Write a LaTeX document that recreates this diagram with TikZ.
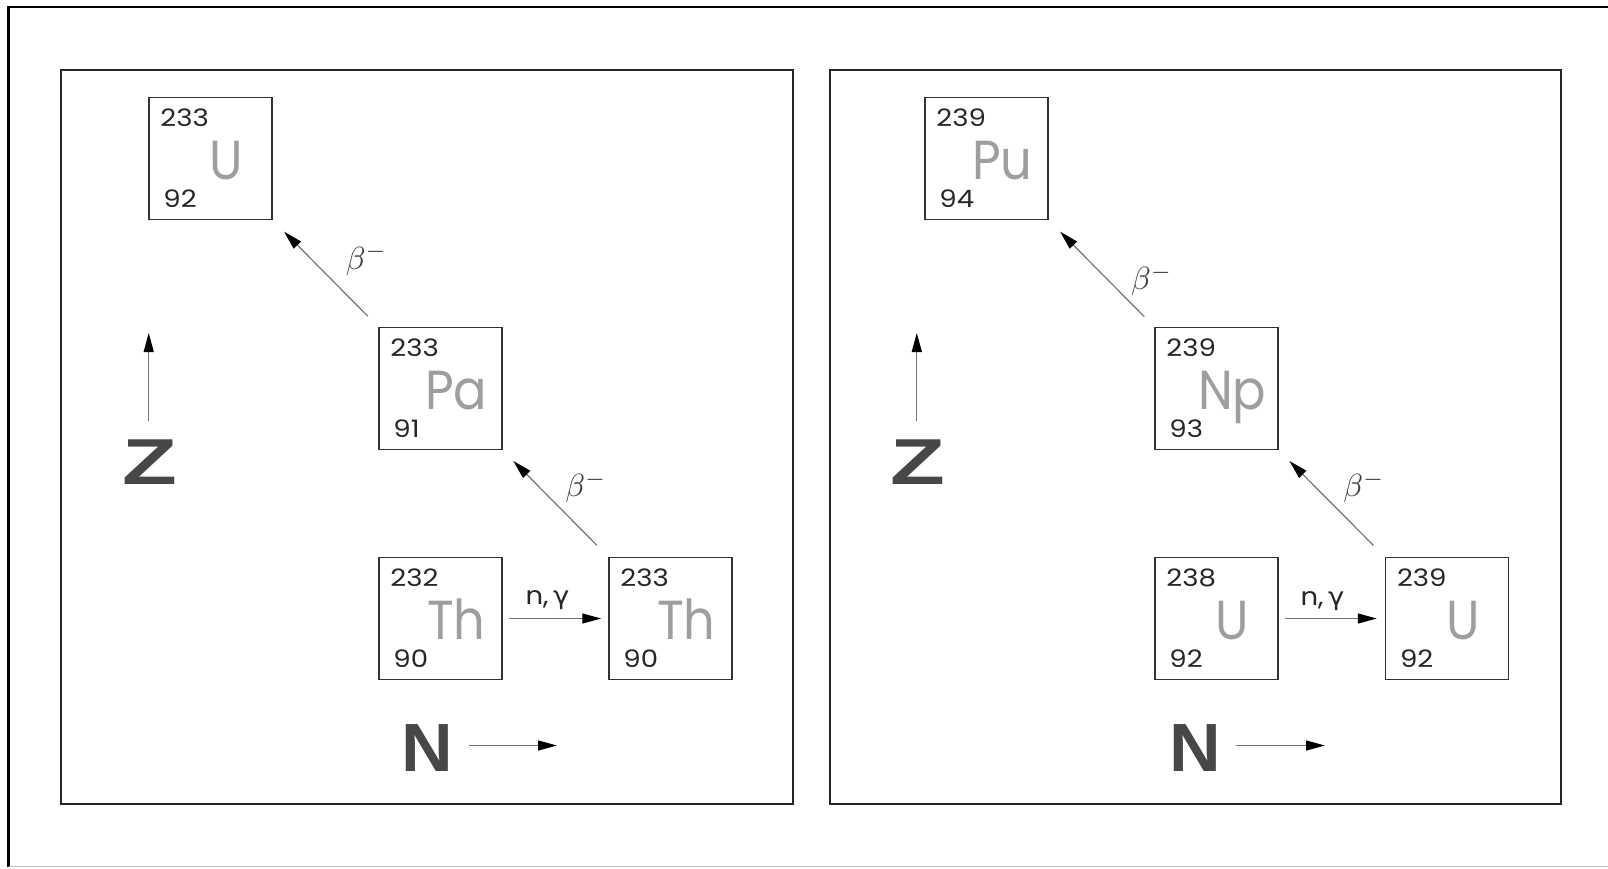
\documentclass[tikz,border=0pt]{standalone}
\usepackage{fontspec}
\setmainfont{Poppins}
\newfontfamily\grk{DejaVu Sans}
\newfontfamily\axisfont{Liberation Sans}
\usetikzlibrary{arrows.meta,calc}
\tikzset{
  nucbox/.style={draw=black!80, line width=1.5pt, minimum width=123pt, minimum height=122pt, inner sep=0pt},
  panel/.style={draw=black!85, line width=2pt},
  numtxt/.style={anchor=base west, inner sep=0pt, xscale=1.15, font=\fontsize{24}{26}\selectfont, text=black!85},
  symtxt/.style={anchor=base, inner sep=0pt, xscale=0.9, font=\fontsize{55}{60}\selectfont, text=black!38},
  rx/.style={draw=black!55, line width=1.2pt, -{Triangle[length=19pt,width=10pt,color=black]}},
  betalbl/.style={inner sep=0pt, scale=3.2, text=black!75},
  nglbl/.style={inner sep=0pt, xscale=1.1, font=\fontsize{25}{27}\selectfont, text=black!85},
  axisletter/.style={inner sep=0pt, font=\axisfont\bfseries\fontsize{65}{70}\selectfont, text=black!72},
}
\newcommand\nucl[6]{%
  \node[nucbox] (#1) at (#2,#3) {};
  \node[numtxt] (#1-A) at ($(#1.north west)+(12,30)$) {#4};
  \node[numtxt] (#1-Z) at ($(#1.north west)+(15,111)$) {#5};
  \node[symtxt] (#1-S) at ($(#1.north west)+(78,83)$) {#6};
}
\begin{document}
\begin{tikzpicture}[x=1pt,y=-1pt]
\useasboundingbox (0,0) rectangle (1608,868);
% outer frame
\draw[line width=2.5pt, black] (1608,7) -- (8.5,7) -- (8.5,866.5);
\draw[line width=1pt, black!25] (8.5,866.5) -- (1608,866.5);
% panels
\draw[panel] (61,70) rectangle (793,804);
\draw[panel] (830,70) rectangle (1561,804);

% ---------- left panel ----------
\nucl{U233}{210.5}{158.5}{233}{92}{U}
\nucl{Pa233}{440.5}{388.5}{233}{91}{Pa}
\nucl{Th232}{440.5}{618.5}{232}{90}{Th}
\nucl{Th233}{670.5}{618.5}{233}{90}{Th}

\draw[rx, shorten <=6pt, shorten >=7pt] (Th232.east) -- (Th233.west);
\node[nglbl] (ngL) at (547.5,600) {n,\,{\grk γ}};
\draw[rx, shorten <=16pt, shorten >=15pt] (Th233.north west) -- (Pa233.south east);
\node[betalbl] (bL2) at (586,487) {$\beta^-$};
\draw[rx, shorten <=15pt, shorten >=16pt] (Pa233.north west) -- (U233.south east);
\node[betalbl] (bL1) at (366.6,259.4) {$\beta^-$};

\coordinate (zLa) at (148.7,420.5);
\coordinate (zLb) at (148.7,333);
\draw[rx] (zLa) -- (zLb);
\node[axisletter, xscale=1.38] (ZL) at (150,462.5) {Z};
\node[axisletter, xscale=1.1, yscale=1.05] (NL) at (427.5,748) {N};
\coordinate (nLa) at (468.6,745.5);
\coordinate (nLb) at (557,745.5);
\draw[rx] (nLa) -- (nLb);

% ---------- right panel ----------
\nucl{Pu239}{986.5}{158.5}{239}{94}{Pu}
\nucl{Np239}{1216.5}{388.5}{239}{93}{Np}
\nucl{U238}{1216.5}{618.5}{238}{92}{U}
\nucl{U239}{1447}{618.5}{239}{92}{U}

\draw[rx, shorten <=6pt, shorten >=8pt] (U238.east) -- (U239.west);
\node[nglbl] (ngR) at (1322.5,601) {n,\,{\grk γ}};
\draw[rx, shorten <=16pt, shorten >=15pt] (U239.north west) -- (Np239.south east);
\node[betalbl] (bR2) at (1364,487) {$\beta^-$};
\draw[rx, shorten <=14pt, shorten >=16pt] (Np239.north west) -- (Pu239.south east);
\node[betalbl] (bR1) at (1151.7,280) {$\beta^-$};

\coordinate (zRa) at (916.8,420.5);
\coordinate (zRb) at (916.8,333);
\draw[rx] (zRa) -- (zRb);
\node[axisletter, xscale=1.38] (ZR) at (918.3,462.5) {Z};
\node[axisletter, xscale=1.1, yscale=1.05] (NR) at (1195.5,748) {N};
\coordinate (nRa) at (1235.7,745.5);
\coordinate (nRb) at (1325,745.5);
\draw[rx] (nRa) -- (nRb);
\end{tikzpicture}
\end{document}
